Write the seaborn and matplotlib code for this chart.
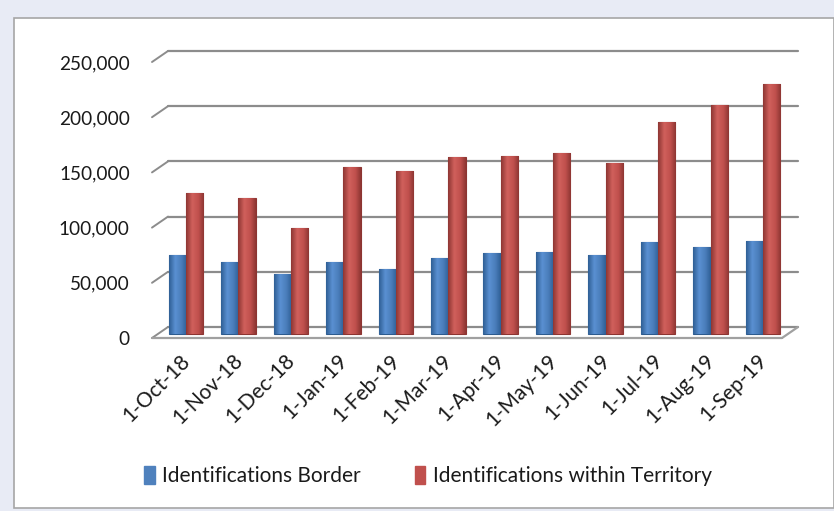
import matplotlib
matplotlib.use("Agg")
import matplotlib.pyplot as plt
import matplotlib.patches as mpatches
import matplotlib.ticker as mticker
import matplotlib.transforms as mtrans
from matplotlib.colors import LinearSegmentedColormap
import numpy as np
import pandas as pd
import seaborn as sns

months = ["1-Oct-18", "1-Nov-18", "1-Dec-18", "1-Jan-19", "1-Feb-19", "1-Mar-19",
          "1-Apr-19", "1-May-19", "1-Jun-19", "1-Jul-19", "1-Aug-19", "1-Sep-19"]
border = [72000, 65000, 54000, 65000, 59000, 69000, 73000, 74000, 72000, 83000, 79000, 84000]
territory = [128000, 123000, 96000, 151000, 148000, 160000, 161000, 164000, 155000, 192000, 207000, 226000]
series = ["Identifications Border", "Identifications within Territory"]
colors = ["#4F81BD", "#C0504D"]
edges = ["#2d5b8e", "#8c3431"]
# cylinder shading: left edge -> highlight -> right edge
shades = [["#2f5f95", "#5a90d2", "#4a7dba", "#2f5f95"],
          ["#8e3633", "#d0605c", "#c0504d", "#8e3633"]]

df = pd.DataFrame({
    "month": months * 2,
    "value": border + territory,
    "series": [series[0]] * len(months) + [series[1]] * len(months),
})

sns.set_theme(style="white")
plt.rcParams["font.family"] = ["Lato", "DejaVu Sans"]

W, H = 834, 511
fig = plt.figure(figsize=(W / 100, H / 100), dpi=100)
fig.patch.set_facecolor("#e8ebf5")

# white chart area with thin gray border
fig.patches.append(mpatches.Rectangle((14 / W, 1 - 508 / H), (W - 14) / W, (508 - 18) / H,
                                      transform=fig.transFigure, facecolor="white",
                                      edgecolor="#a6a6a6", linewidth=1.2, zorder=-10))

# axes = front plane of the pseudo-3D box
ax = fig.add_axes([152 / W, 1 - 338 / H, (797 - 152) / W, (338 - 62) / H])
ax.set_facecolor("none")

sns.barplot(data=df, x="month", y="value", hue="series", palette=colors, saturation=1,
            width=0.66, gap=0.0, ax=ax, zorder=3)


def shift(dx, dy):
    return mtrans.ScaledTranslation(dx / 100, dy / 100, fig.dpi_scale_trans)


bar_tr = ax.transData + shift(6, 4)
grad = np.linspace(0, 1, 64).reshape(1, -1)
for cont, c, sh in zip(ax.containers, edges, shades):
    cmap = LinearSegmentedColormap.from_list("cyl", list(zip([0, 0.35, 0.7, 1], sh)))
    for bar in cont:
        bar.set_edgecolor(c)
        bar.set_linewidth(0.8)
        bar.set_transform(bar_tr)
        x0, y0 = bar.get_x(), bar.get_y()
        im = ax.imshow(grad, cmap=cmap, aspect="auto", interpolation="bilinear",
                       extent=(x0, x0 + bar.get_width(), y0, y0 + bar.get_height()),
                       zorder=3.5)
        im.set_transform(bar_tr)
        im.set_clip_path(bar)

ax.set_xlim(-0.534, 11.763)
ax.set_ylim(0, 250000)

# back wall gridlines + diagonal stubs, floor
yt = ax.get_yaxis_transform()
back = yt + shift(16, 11)
right_end = (782 - 152) / 645
for v in range(0, 250001, 50000):
    ax.plot([0, right_end], [v, v], transform=back, color="#8c8c8c", lw=1.6,
            zorder=1, clip_on=False)
    ax.add_artist(mpatches.ConnectionPatch((0, v), (0, v), coordsA=yt, coordsB=back,
                                           color="#8c8c8c", lw=1.4))
ax.plot([0, right_end], [0, 0], transform=yt, color="#a0a0a0", lw=1.6, clip_on=False, zorder=2)
ax.add_artist(mpatches.ConnectionPatch((right_end, 0), (right_end, 0), coordsA=yt,
                                       coordsB=back, color="#a0a0a0", lw=1.6))

ax.yaxis.set_major_locator(mticker.MultipleLocator(50000))
ax.yaxis.set_major_formatter(mticker.FuncFormatter(lambda v, p: f"{int(v):,}"))
ax.grid(False)
for s in ax.spines.values():
    s.set_visible(False)

ax.tick_params(axis="y", length=0, pad=16, labelsize=13.7, labelcolor="#1a1a1a")
ax.tick_params(axis="x", length=0, pad=9, labelsize=15, labelcolor="#1a1a1a")
plt.setp(ax.get_xticklabels(), rotation=45, ha="right", rotation_mode="anchor")
ax.set_xlabel("")
ax.set_ylabel("")

ax.get_legend().remove()
handles = [mpatches.Patch(color=c) for c in colors]
fig.legend(handles, series, loc="center", bbox_to_anchor=(428 / W, 1 - 476 / H), ncol=2,
           frameon=False, fontsize=15, handlelength=0.5, handleheight=1.0,
           columnspacing=2.6, handletextpad=0.35, labelcolor="#1a1a1a")

fig.savefig("out.png", dpi=100, facecolor=fig.get_facecolor())
